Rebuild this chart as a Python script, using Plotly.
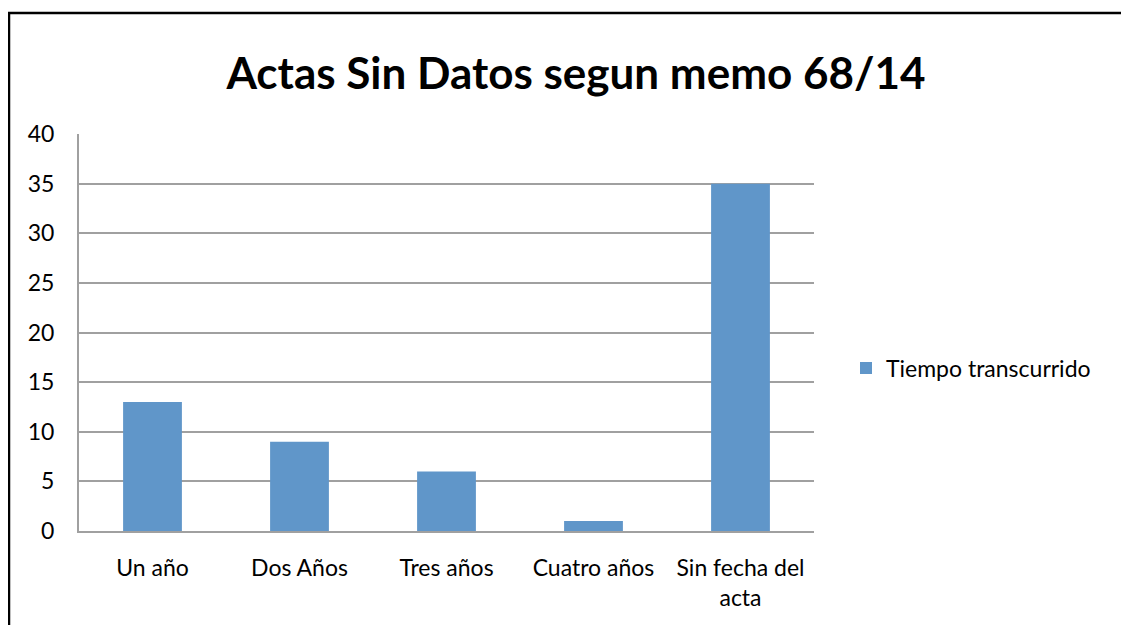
import plotly.graph_objects as go

categories = ["Un año", "Dos Años", "Tres años", "Cuatro años", "Sin fecha del<br>acta"]
values = [13, 9, 6, 1, 35]
series_name = "Tiempo transcurrido"
y_ticks = [0, 5, 10, 15, 20, 25, 30, 35, 40]

OFF = 8  # page body margin
W, H = 1129 - OFF, 625 - OFF
L, R, T, B = 79 - OFF, 814 - OFF, 134 - OFF, 531 - OFF

fig = go.Figure()
fig.add_trace(go.Bar(
    x=categories, y=values, name=series_name,
    marker=dict(color="#6096c9", line=dict(width=0)),
    showlegend=True,
))

font_family = "Lato, 'Open Sans', sans-serif"

fig.update_layout(
    width=W, height=H,
    margin=dict(l=L, r=W - R, t=T, b=H - B, pad=0),
    paper_bgcolor="white", plot_bgcolor="white",
    bargap=0.6,
    font=dict(family=font_family, size=23, color="black"),
    title=dict(text="<b>Actas Sin Datos segun memo 68/14</b>",
               x=(576 - OFF) / W, xanchor="center", y=1 - (74 - OFF) / H, yanchor="middle",
               font=dict(size=44, family=font_family, color="black")),
    xaxis=dict(showgrid=False, showline=True, linecolor="#a0a0a0", linewidth=2,
               ticks="", ticklabelstandoff=15, tickfont=dict(size=23)),
    yaxis=dict(range=[0, 40], tickvals=y_ticks, showgrid=True, gridcolor="#a0a0a0",
               gridwidth=2, showline=True, linecolor="#a0a0a0", linewidth=2,
               ticks="", ticklabelstandoff=18, zeroline=False, tickfont=dict(size=23)),
    legend=dict(x=(846 - OFF - L) / (R - L), y=(B - (368 - OFF)) / (B - T), xanchor="left", yanchor="middle",
                font=dict(size=23), itemwidth=30, bgcolor="rgba(0,0,0,0)"),
    shapes=[dict(type="rect", xref="paper", yref="paper",
                 x0=(9 - OFF - L) / (R - L), x1=(W + 20 - L) / (R - L),
                 y0=(B - (H + 20)) / (B - T), y1=(B - (13 - OFF)) / (B - T),
                 line=dict(color="black", width=2.5), fillcolor="rgba(0,0,0,0)", layer="above")],
)

fig.write_html("out.html")
